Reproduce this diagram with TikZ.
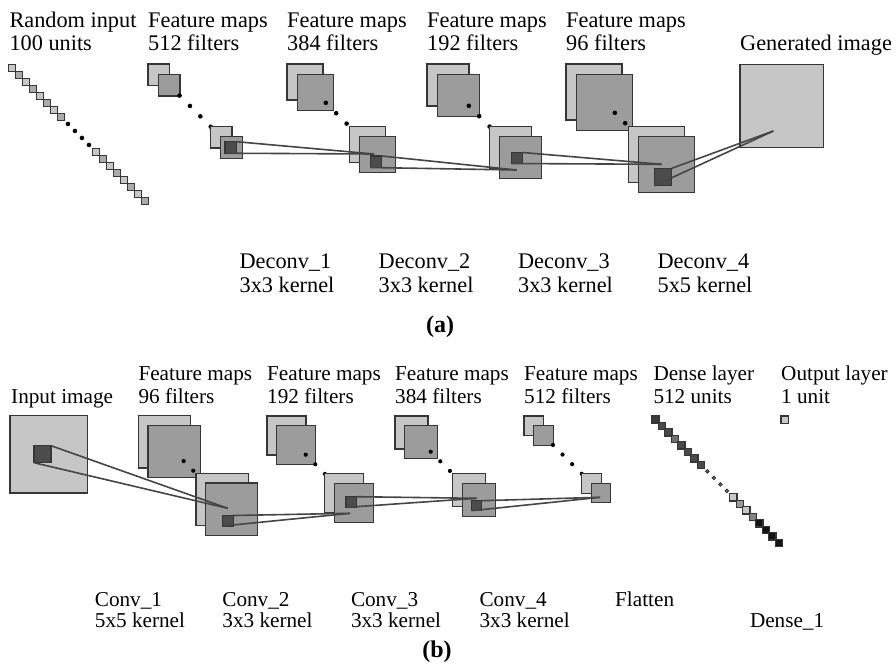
\documentclass[tikz,border=0pt]{standalone}
\usepackage{fontspec}
\setmainfont{Liberation Serif}

\definecolor{edgec}{HTML}{363636}
\definecolor{mapLight}{HTML}{C6C6C6}
\definecolor{mapMed}{HTML}{9C9C9C}
\definecolor{patchc}{HTML}{4C4C4C}
\definecolor{connc}{HTML}{454545}
\definecolor{riA}{HTML}{C8C8C8}
\definecolor{riB}{HTML}{ABABAB}
\definecolor{dA}{HTML}{3A3A3A}
\definecolor{dB}{HTML}{4A4A4A}
\definecolor{dC}{HTML}{707070}
\definecolor{dL}{HTML}{C8C8C8}
\definecolor{dM}{HTML}{9A9A9A}
\definecolor{dN}{HTML}{858585}
\definecolor{dK}{HTML}{141414}

\tikzset{
  sq/.style={draw=edgec, line width=1.2pt, inner sep=0pt, outer sep=0pt,
             anchor=north west, minimum size=#1},
  lightsq/.style={sq=#1, fill=mapLight},
  medsq/.style={sq=#1, fill=mapMed},
  unitsq/.style={draw=edgec, line width=1.2pt, inner sep=0pt, outer sep=0pt,
                 anchor=north west, minimum size=7.3},
  patch/.style={draw=edgec, line width=1.1pt, fill=patchc, inner sep=0pt,
                outer sep=0pt, anchor=north west, minimum size=#1},
  conn/.style={draw=connc, line width=1.6pt},
  dotc/.style={fill=black},
  lblA/.style={inner sep=0pt, anchor=base west, font=\fontsize{22.3}{24}\selectfont},
  lblB/.style={inner sep=0pt, anchor=base west, font=\fontsize{21.2}{23}\selectfont},
  subcap/.style={inner sep=0pt, anchor=base, font=\fontsize{24}{26}\selectfont\bfseries},
}

% stack of feature maps: name, x, y, size, step, dot radius
\newcommand\fmstack[6]{%
  \node[lightsq=#4] (#1-0) at (#2,#3) {};
  \node[medsq=#4] (#1-1) at (#2+#5,#3+#5) {};
  \foreach \k in {2,...,5}
    \fill[dotc] (#2+\k*#5+#4/2, #3+\k*#5+#4/2) circle[radius=#6];
  \node[lightsq=#4] (#1-6) at (#2+6*#5,#3+6*#5) {};
  \node[medsq=#4] (#1-7) at (#2+7*#5,#3+7*#5) {};
}
% two lines from opposite corners of a kernel patch to a point of the next layer
\newcommand\mapping[2]{%
  \draw[conn] (#1.north east) -- (#2);
  \draw[conn] (#1.south west) -- (#2);
}

\begin{document}
\begin{tikzpicture}[x=1pt,y=-1pt]
\path[use as bounding box] (0,0) rectangle (896,664);

%% ---------------- (a) generator ----------------
\node[lblA] (ha0a) at (9.3,27.3) {Random input};
\node[lblA] (ha0b) at (9.3,50.7) {100 units};
\node[lblA] (ha1a) at (148,27.3) {Feature maps};
\node[lblA] (ha1b) at (148,50.7) {512 filters};
\node[lblA] (ha2a) at (287,27.3) {Feature maps};
\node[lblA] (ha2b) at (287,50.7) {384 filters};
\node[lblA] (ha3a) at (427,27.3) {Feature maps};
\node[lblA] (ha3b) at (427,50.7) {192 filters};
\node[lblA] (ha4a) at (566,27.3) {Feature maps};
\node[lblA] (ha4b) at (566,50.7) {96 filters};
\node[lblA] (ha5) at (740,50.7) {Generated image};

% random input vector
\foreach \k in {0,...,7,12,13,...,19}{
  \ifodd\k \def\fc{riB}\else\def\fc{riA}\fi
  \node[unitsq, fill=\fc] (ri-\k) at (8.3+7*\k, 64.3+7*\k) {};
}
\foreach \k in {8,...,11}
  \fill[dotc] (8.3+7*\k+3.65, 64.3+7*\k+3.65) circle[radius=2.3pt];

\fmstack{fa1}{148}{64}{21.5}{10.4}{2.3pt}
\fmstack{fa2}{287}{64}{36}{10.4}{2.3pt}
\fmstack{fa3}{427}{64}{42}{10.4}{2.3pt}
\fmstack{fa4}{566}{64}{56}{10.4}{2.3pt}
\node[lightsq=83.3] (gen) at (740,64.3) {};

\node[patch=11.5] (pa1) at (225,141.7) {};
\node[patch=11.5] (pa2) at (370.2,156) {};
\node[patch=11] (pa3) at (511.7,152.5) {};
\node[patch=17.5] (pa4) at (654.3,168.3) {};
\coordinate (ea1) at (374,154);
\coordinate (ea2) at (516.7,170);
\coordinate (ea3) at (661.7,164.3);
\coordinate (ea4) at (773.3,131);

\node[lblA] (la1a) at (239.4,268) {Deconv\_1};
\node[lblA] (la1b) at (239.4,292) {3x3 kernel};
\node[lblA] (la2a) at (378.5,268) {Deconv\_2};
\node[lblA] (la2b) at (378.5,292) {3x3 kernel};
\node[lblA] (la3a) at (517.9,268) {Deconv\_3};
\node[lblA] (la3b) at (517.9,292) {3x3 kernel};
\node[lblA] (la4a) at (657.4,268) {Deconv\_4};
\node[lblA] (la4b) at (657.4,292) {5x5 kernel};
\node[subcap] (capa) at (440,332) {(a)};

%% ---------------- (b) discriminator ----------------
\node[lblB] (hb0) at (11,403.3) {Input image};
\node[lblB] (hb1a) at (138.3,380.5) {Feature maps};
\node[lblB] (hb1b) at (138.3,403.3) {96 filters};
\node[lblB] (hb2a) at (267,380.5) {Feature maps};
\node[lblB] (hb2b) at (267,403.3) {192 filters};
\node[lblB] (hb3a) at (395,380.5) {Feature maps};
\node[lblB] (hb3b) at (395,403.3) {384 filters};
\node[lblB] (hb4a) at (524,380.5) {Feature maps};
\node[lblB] (hb4b) at (524,403.3) {512 filters};
\node[lblB] (hb5a) at (653.3,380.5) {Dense layer};
\node[lblB] (hb5b) at (653.3,403.3) {512 units};
\node[lblB] (hb6a) at (781,380.5) {Output layer};
\node[lblB] (hb6b) at (781,403.3) {1 unit};

\node[lightsq=77.3] (inimg) at (10,415.7) {};
\fmstack{fb1}{138.3}{415.7}{52.3}{9.6}{2.1pt}
\fmstack{fb2}{267}{416}{39}{9.6}{2.1pt}
\fmstack{fb3}{395}{416}{33}{9.6}{2.1pt}
\fmstack{fb4}{524}{416}{19.5}{9.6}{2.1pt}

% dense layer
\foreach \k/\c in {0/dA,1/dB,2/dB,3/dC,4/dB,5/dB,6/dB,7/dB,12/dL,13/dM,14/dL,15/dN,16/dK,17/dK,18/dK,19/dK}
  \node[unitsq, fill=\c] (dl-\k) at (651.7+6.5*\k, 415.7+6.5*\k) {};
\foreach \k in {8,...,11}
  \draw[draw=edgec, line width=0.9pt, fill=dC] (651.7+6.5*\k+3.65, 415.7+6.5*\k+3.65) circle[radius=1.8pt];
% output unit
\node[unitsq, fill=dL] (outu) at (781,416) {};

\node[patch=17] (pb0) at (34,445.7) {};
\node[patch=10.5] (pb1) at (222.7,515.5) {};
\node[patch=10.7] (pb2) at (346,496.7) {};
\node[patch=10] (pb3) at (471.7,500.7) {};
\coordinate (eb0) at (227.7,508.3);
\coordinate (eb1) at (350,513.3);
\coordinate (eb2) at (476.7,498.3);
\coordinate (eb3) at (600,497.3);

\node[lblB] (lb1a) at (94.7,606) {Conv\_1};
\node[lblB] (lb1b) at (94.7,627) {5x5 kernel};
\node[lblB] (lb2a) at (222.2,606) {Conv\_2};
\node[lblB] (lb2b) at (222.2,627) {3x3 kernel};
\node[lblB] (lb3a) at (350.8,606) {Conv\_3};
\node[lblB] (lb3b) at (350.8,627) {3x3 kernel};
\node[lblB] (lb4a) at (479.4,606) {Conv\_4};
\node[lblB] (lb4b) at (479.4,627) {3x3 kernel};
\node[lblB] (lb5) at (615,606) {Flatten};
\node[lblB] (lb6) at (749.8,627) {Dense\_1};
\node[subcap] (capb) at (437,657) {(b)};

%% connectors drawn above all maps
\mapping{pa1}{ea1}
\mapping{pa2}{ea2}
\mapping{pa3}{ea3}
\mapping{pa4}{ea4}
\mapping{pb0}{eb0}
\mapping{pb1}{eb1}
\mapping{pb2}{eb2}
\mapping{pb3}{eb3}
\end{tikzpicture}
\end{document}
